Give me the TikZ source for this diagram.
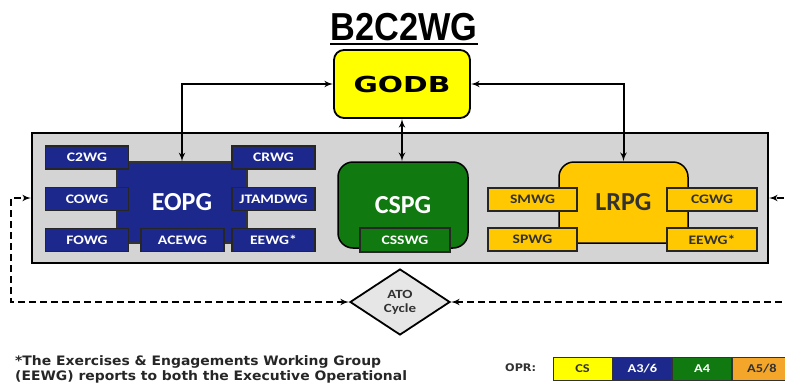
\documentclass[tikz,border=0pt]{standalone}
\usepackage{fontspec}
\usepackage{tikz}
\usetikzlibrary{arrows,positioning,shapes.geometric}
\newfontfamily\headfont{Liberation Sans}[FakeStretch=0.88]
\newfontfamily\pgfont{Carlito}
\newfontfamily\wgfont{Carlito}[FakeStretch=1.2]
\newfontfamily\godbfont{DejaVu Sans}[FakeStretch=1.35]
\newfontfamily\notefont{DejaVu Sans}[FakeStretch=1.07]
\definecolor{godbyellow}{RGB}{255,255,0}
\definecolor{eopgblue}{RGB}{28,40,140}
\definecolor{cspggreen}{RGB}{16,122,16}
\definecolor{lrpgyellow}{RGB}{255,200,0}
\definecolor{legorange}{RGB}{244,166,42}
\definecolor{boxgray}{RGB}{212,212,212}
\definecolor{atogray}{RGB}{230,230,230}
\definecolor{darktext}{RGB}{50,50,50}

\begin{document}
\begin{tikzpicture}[x=1pt,y=-1pt]
        \tikzset{pg/.style = {draw=black,line width=1.5pt,rounded corners=15pt,inner sep=0pt,
                font=\pgfont\bfseries\fontsize{26}{28}\selectfont}}
        \tikzset{wg/.style = {draw=black!85,line width=1.2pt,inner sep=0pt,minimum width=83pt,minimum height=23pt,
                font=\wgfont\bfseries\fontsize{13}{14}\selectfont}}
        \tikzset{bluewg/.style = {wg,fill=eopgblue,text=white}}
        \tikzset{yellowwg/.style = {wg,fill=lrpgyellow,text=darktext,minimum width=89pt}}
        \tikzset{leg/.style = {draw=black!80,line width=0.8pt,inner sep=0pt,minimum width=59pt,minimum height=23pt,
                font=\wgfont\bfseries\fontsize{12}{13}\selectfont}}
        \tikzset{edge/.style = {<->,> = latex',line width=2pt}}
        \tikzset{dashedge/.style = {edge,dashed,dash pattern=on 7pt off 4pt}}
        \useasboundingbox (0,0) rectangle (785,383);
        \clip (0,0) rectangle (785,383);
        % title
        \node[anchor=base,inner sep=0pt,font=\headfont\bfseries\fontsize{39}{40}\selectfont] (title) at (404,40) {B2C2WG};
        \draw[line width=2.5pt] ([yshift=-4pt]title.base west) -- ([yshift=-4pt]title.base east);
        % vertices
        \node[draw=black,line width=1.8pt,rounded corners=10pt,fill=godbyellow,minimum width=136pt,minimum height=68pt,
              font=\godbfont\bfseries\fontsize{22}{24}\selectfont] (godb) at (402,84) {GODB};
        \node[draw=black,line width=1.8pt,fill=boxgray,minimum width=736pt,minimum height=130pt] (grp) at (400,198) {};
        % EOPG
        \node[draw=black!80,line width=1.2pt,fill=eopgblue,text=white,minimum width=130pt,minimum height=81pt,
              inner sep=0pt,font=\pgfont\bfseries\fontsize{26}{28}\selectfont] (eopg) at (182,202.5) {EOPG};
        \node[bluewg] (c2wg) at (87,157.5) {C2WG};
        \node[bluewg] (crwg) at (273.5,157.5) {CRWG};
        \node[bluewg] (cowg) at (87,199) {COWG};
        \node[bluewg] (jtamdwg) at (273.5,199) {JTAMDWG};
        \node[bluewg] (fowg) at (87,240) {FOWG};
        \node[bluewg] (acewg) at (182.5,240) {ACEWG};
        \node[bluewg] (eewga) at (273.5,240) {EEWG*};
        % CSPG
        \node[pg,fill=cspggreen,text=white,minimum width=130pt,minimum height=86pt] (cspg) at (403,205) {CSPG};
        \node[bluewg,fill=cspggreen,minimum width=90pt,minimum height=24pt] (csswg) at (405,240) {CSSWG};
        % LRPG
        \node[pg,fill=lrpgyellow,text=darktext,minimum width=129pt,minimum height=81pt] (lrpg) at (623.5,202.5) {LRPG};
        \node[yellowwg] (smwg) at (532.5,199.5) {SMWG};
        \node[yellowwg] (spwg) at (532.5,239.5) {SPWG};
        \node[yellowwg,minimum width=90pt] (cgwg) at (712,199.5) {CGWG};
        \node[yellowwg,minimum width=90pt] (eewgb) at (712,239.5) {EEWG*};
        % ATO cycle
        \node[diamond,draw=black,line width=1.8pt,fill=atogray,minimum width=100pt,minimum height=66pt,inner sep=0pt,
              align=center,text=darktext,font=\wgfont\bfseries\fontsize{12.5}{14}\selectfont] (ato) at (400,302) {ATO\\Cycle};
        %edges
        \draw[edge] (godb.west) -| (eopg.north);
        \draw[edge] (godb.east) -| (lrpg.north);
        \draw[edge] (godb.south) -- (godb.south |- cspg.north);
        \draw[dashedge] (ato.west) -| ([xshift=-20pt]grp.west) -- (grp.west);
        \draw[dashedge] (ato.east) -| ([xshift=19pt]grp.east) -- (grp.east);
        % legend
        \node[anchor=west,inner sep=0pt,text=darktext,font=\notefont\bfseries\fontsize{10.5}{12}\selectfont] (opr) at (505,368) {OPR:};
        \node[leg,fill=godbyellow,text=darktext] (cs) at (582.5,368.5) {CS};
        \node[leg,fill=eopgblue,text=white,right=0pt of cs] (a36) {A3/6};
        \node[leg,fill=cspggreen,text=white,right=0pt of a36] (a4) {A4};
        \node[leg,fill=legorange,text=darktext,right=0pt of a4] (a58) {A5/8};
        % note
        \node[anchor=north west,inner sep=0pt,align=left,text=black!85,
              font=\notefont\bfseries\fontsize{13}{15}\selectfont] (note) at (15,355)
              {*The Exercises \& Engagements Working Group\\(EEWG) reports to both the Executive Operational};
\end{tikzpicture}
\end{document}
